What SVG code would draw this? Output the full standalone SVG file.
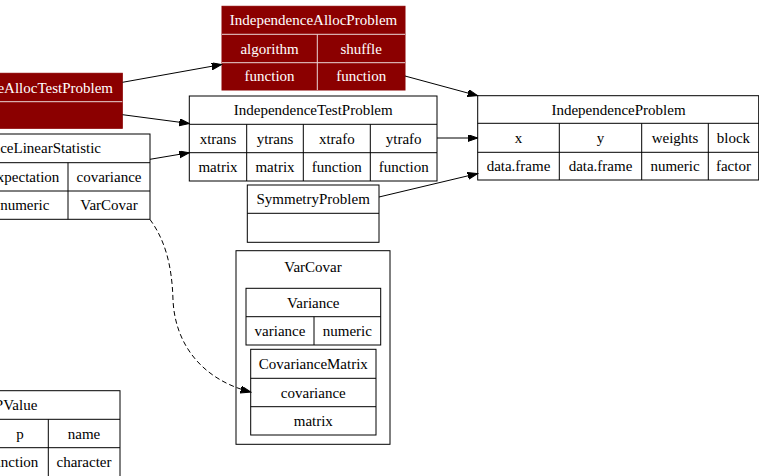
<svg xmlns="http://www.w3.org/2000/svg" width="759" height="476" viewBox="0 0 759 476">
<style>
text{font-family:"Liberation Serif","Times New Roman",serif;font-size:15px;fill:#000;text-anchor:middle}
.w text{fill:#fff}
.end{text-anchor:end}
.box{fill:#fff;stroke:#000;stroke-width:1}
.cl{fill:none;stroke:#000;stroke-width:1}
.rbox{fill:#8b0000;stroke:#8b0000;stroke-width:1}
.ln{stroke:#000;stroke-width:1;fill:none}
.rl{stroke:#ead6d6;stroke-width:1;fill:none}
.e{stroke:#000;stroke-width:1;fill:none;marker-end:url(#ah)}
</style>
<defs>
<marker id="ah" markerUnits="userSpaceOnUse" markerWidth="11" markerHeight="8" refX="10" refY="3.5" orient="auto">
<path d="M0,0 L10,3.5 L0,7 z" fill="#000" stroke="#000" stroke-width="1" stroke-dasharray="none"/>
</marker>
</defs>
<rect width="759" height="476" fill="#fff"/>

<g id="IndependenceAllocProblem" class="w">
<rect class="rbox" x="222" y="6.3" width="183" height="83.7"/>
<path class="rl" d="M222,34.3 H405 M222,62.7 H405 M317.3,34.3 V90"/>
<text x="313.5" y="25.3">IndependenceAllocProblem</text>
<text x="269.6" y="53.5">algorithm</text>
<text x="361.2" y="53.5">shuffle</text>
<text x="269.6" y="81.3">function</text>
<text x="361.2" y="81.3">function</text>
</g>

<g id="IndependenceAllocTestProblem" class="w">
<rect class="rbox" x="-100" y="73.3" width="222.3" height="55"/>
<path class="rl" d="M-100,101.7 H122.3"/>
<text class="end" x="113" y="92.5">IndependenceAllocTestProblem</text>
</g>

<g id="IndependenceTestProblem">
<rect class="box" x="189.3" y="96" width="247.7" height="85"/>
<path class="ln" d="M189.3,124.3 H437 M189.3,152.7 H437 M246.7,124.3 V181 M303.3,124.3 V181 M370.3,124.3 V181"/>
<text x="313.2" y="115.2">IndependenceTestProblem</text>
<text x="218" y="143.5">xtrans</text>
<text x="275" y="143.5">ytrans</text>
<text x="336.8" y="143.5">xtrafo</text>
<text x="403.7" y="143.5">ytrafo</text>
<text x="218" y="171.8">matrix</text>
<text x="275" y="171.8">matrix</text>
<text x="336.8" y="171.8">function</text>
<text x="403.7" y="171.8">function</text>
</g>

<g id="IndependenceProblem">
<rect class="box" x="477.7" y="95.7" width="281" height="84.3"/>
<path class="ln" d="M477.7,123.3 H759 M477.7,152.3 H759 M559.3,123.3 V180 M641.7,123.3 V180 M708.3,123.3 V180"/>
<text x="618.5" y="114.5">IndependenceProblem</text>
<text x="518.5" y="142.8">x</text>
<text x="600.5" y="142.8">y</text>
<text x="675" y="142.8">weights</text>
<text x="733.4" y="142.8">block</text>
<text x="518.5" y="171">data.frame</text>
<text x="600.5" y="171">data.frame</text>
<text x="675" y="171">numeric</text>
<text x="733.4" y="171">factor</text>
</g>

<g id="IndependenceLinearStatistic">
<rect class="box" x="-60" y="134" width="210" height="85.3"/>
<path class="ln" d="M-60,162.7 H150 M-60,191 H150 M68,162.7 V219.3"/>
<text class="end" x="101" y="153.3">IndependenceLinearStatistic</text>
<text class="end" x="59.3" y="181.8">expectation</text>
<text x="109" y="181.8">covariance</text>
<text class="end" x="49.3" y="210.2">numeric</text>
<text x="109" y="210.2">VarCovar</text>
</g>

<g id="SymmetryProblem">
<rect class="box" x="247.3" y="185" width="131.7" height="57.3"/>
<path class="ln" d="M247.3,213.3 H379"/>
<text x="313.2" y="204.1">SymmetryProblem</text>
</g>

<g id="VarCovar">
<rect class="cl" x="236" y="250.7" width="154" height="193.6"/>
<text x="313" y="272.1">VarCovar</text>
</g>

<g id="Variance">
<rect class="box" x="246" y="288.3" width="134.7" height="56.7"/>
<path class="ln" d="M246,316.7 H380.7 M314,316.7 V345"/>
<text x="313.3" y="307.5">Variance</text>
<text x="280" y="335.8">variance</text>
<text x="347.3" y="335.8">numeric</text>
</g>

<g id="CovarianceMatrix">
<rect class="box" x="250.7" y="349.3" width="125.3" height="85.7"/>
<path class="ln" d="M250.7,378.3 H376 M250.7,406.7 H376"/>
<text x="313.3" y="368.8">CovarianceMatrix</text>
<text x="313.3" y="397.5">covariance</text>
<text x="313.3" y="425.8">matrix</text>
</g>

<g id="PValue">
<rect class="box" x="-40" y="390.7" width="160" height="90"/>
<path class="ln" d="M-40,419.3 H120 M-40,447.7 H120 M48.3,419.3 V480"/>
<text class="end" x="37.3" y="410">PValue</text>
<text x="20" y="438.5">p</text>
<text x="84" y="438.5">name</text>
<text class="end" x="38.3" y="466.8">function</text>
<text x="84" y="466.8">character</text>
</g>

<g id="connectors">
<path class="e" d="M122.5,82.3 L221.7,64.5"/>
<path class="e" d="M122.5,114.7 L189.3,123.5"/>
<path class="e" d="M150,159.3 L189.3,152.7"/>
<path class="e" d="M405,76 L477.7,95.7"/>
<path class="e" d="M437,138 L477.7,138"/>
<path class="e" d="M379,197 L477.7,173.5"/>
<path class="e" stroke-dasharray="5,3" d="M150,219.5 C165,240 172,265 173,300 C175,345 203,380 250.7,392"/>
</g>
</svg>
